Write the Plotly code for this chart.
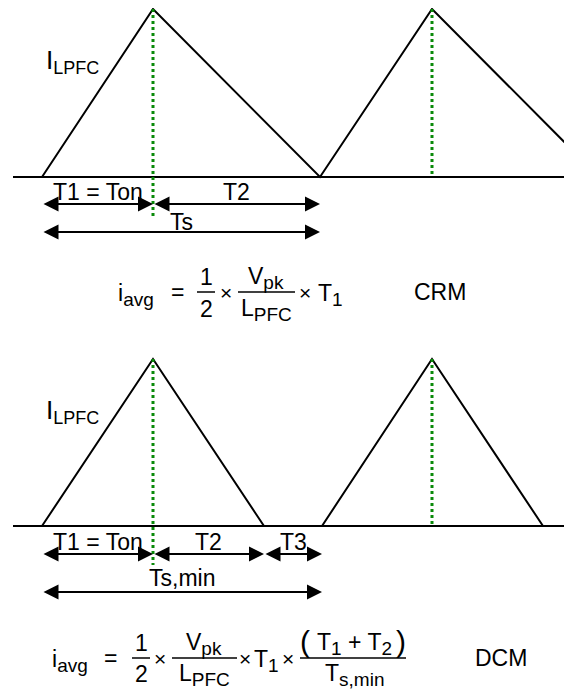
import plotly.graph_objects as go

# page body has an 8 px margin: the figure is sized to fill the rest of the window
OFF = 8
W, H = 572 - OFF, 691 - OFF

# ---------------- data (time in arbitrary units, current normalised) -------------
axis_start = 13
axis_end = 572

crm_time = [42, 153, 320, 432, 599]
crm_current = [0, 1, 0, 1, 0]
crm_peaks = [153, 432]
crm_bounds = [42, 153, 320]
crm_labels = ["T1 = Ton", "T2"]
crm_period_label = "Ts"

dcm_time = [42, 153, 264, 322, 432, 543]
dcm_current = [0, 1, 0, 0, 1, 0]
dcm_peaks = [153, 432]
dcm_bounds = [42, 153, 264, 322]
dcm_labels = ["T1 = Ton", "T2", "T3"]
dcm_period_label = "Ts,min"

# ---------------- styling ----------------
FONT = "Liberation Sans, Arial, sans-serif"
BLACK = "#000000"
GREEN = "#0a8a0a"
LAB = 23      # label font size
FS = 23       # formula font size
SUBFS = 19    # subscript size

fig = go.Figure()


def px(x):
    return (x - OFF) / W


def py(y):
    return 1 - (y - OFF) / H


def sub(s, size=SUBFS):
    return "<sub><span style='font-size:%dpx'>%s</span></sub>" % (size, s)


def arrow(a, b, y, yr):
    fig.add_annotation(x=b, y=y, ax=a, ay=y, xref="x", yref=yr,
                       axref="x", ayref=yr, text="", showarrow=True,
                       arrowhead=2, startarrowhead=2, arrowside="end+start",
                       arrowsize=1.5, startarrowsize=1.5, arrowwidth=2,
                       arrowcolor=BLACK, standoff=0, startstandoff=0)


def panel(times, currents, peaks, bounds, labels, period_label, yref, row_y, lab_y,
          per_y, per_lab_y, green_low):
    fig.add_trace(go.Scatter(x=[axis_start, axis_end], y=[0, 0], mode="lines",
                             line=dict(color=BLACK, width=2), yaxis=yref,
                             hoverinfo="skip", showlegend=False))
    fig.add_trace(go.Scatter(x=times, y=currents, mode="lines",
                             line=dict(color=BLACK, width=2), yaxis=yref,
                             hoverinfo="skip", showlegend=False))
    for i, t in enumerate(peaks):
        low = green_low if i == 0 else 0
        fig.add_trace(go.Scatter(x=[t, t], y=[1, low], mode="lines",
                                 line=dict(color=GREEN, width=3, dash="dot"),
                                 yaxis=yref, hoverinfo="skip", showlegend=False))
    yr = "y" if yref == "y" else "y2"
    for i in range(len(bounds) - 1):
        a, b = bounds[i], bounds[i + 1]
        arrow(a, b, row_y, yr)
        fig.add_annotation(x=(a + b) / 2, y=lab_y, xref="x", yref=yr,
                           text=labels[i], showarrow=False,
                           font=dict(family=FONT, size=LAB, color=BLACK))
    arrow(bounds[0], bounds[-1], per_y, yr)
    fig.add_annotation(x=(bounds[0] + bounds[-1]) / 2, y=per_lab_y, xref="x",
                       yref=yr, text=period_label, showarrow=False,
                       font=dict(family=FONT, size=LAB, color=BLACK))
    fig.add_annotation(x=44, y=0.685, xref="x", yref=yr, xanchor="left",
                       text="I" + sub("LPFC", 18), showarrow=False,
                       font=dict(family=FONT, size=26, color=BLACK))


panel(crm_time, crm_current, crm_peaks, crm_bounds, crm_labels, crm_period_label,
      "y", -0.161, -0.092, -0.327, -0.27, -0.24)
panel(dcm_time, dcm_current, dcm_peaks, dcm_bounds, dcm_labels, dcm_period_label,
      "y2", -0.168, -0.098, -0.395, -0.31, -0.234)


def txt(x, y, s, size=FS, xanchor="center"):
    fig.add_annotation(x=px(x), y=py(y), xref="paper", yref="paper", text=s,
                       showarrow=False, xanchor=xanchor, yanchor="middle",
                       font=dict(family=FONT, size=size, color=BLACK))


def bar(x0, x1, y):
    fig.add_shape(type="line", xref="paper", yref="paper", x0=px(x0), x1=px(x1),
                  y0=py(y), y1=py(y), line=dict(color=BLACK, width=1.5))


# CRM formula
yc = 292
txt(116, yc + 3, "i" + sub("avg"), xanchor="left")
txt(177, yc, "=")
txt(206, yc - 15, "1"); txt(206, yc + 17, "2"); bar(197, 215, yc)
txt(226, yc, "×", size=21)
txt(266, yc - 14, "V" + sub("pk")); txt(266, yc + 18, "L" + sub("PFC")); bar(238, 295, yc)
txt(305, yc, "×", size=21)
txt(316, yc + 3, "T" + sub("1"), xanchor="left")
txt(440, yc, "CRM")

# DCM formula
yd = 658
txt(50, yd + 3, "i" + sub("avg"), xanchor="left")
txt(110, yd, "=")
txt(141, yd - 15, "1"); txt(141, yd + 16, "2"); bar(132, 150, yd)
txt(160, yd, "×", size=21)
txt(204, yd - 14, "V" + sub("pk")); txt(204, yd + 17, "L" + sub("PFC")); bar(172, 237, yd)
txt(245, yd, "×", size=21)
txt(252, yd + 3, "T" + sub("1"), xanchor="left")
txt(288, yd, "×", size=21)
txt(305, yd - 17, "(", size=30)
txt(354, yd - 14, "T" + sub("1") + " + T" + sub("2"))
txt(401, yd - 17, ")", size=30)
txt(354, yd + 17, "T" + sub("s,min"))
bar(300, 406, yd)
txt(501, yd, "DCM")

fig.update_layout(
    width=W, height=H,
    margin=dict(l=0, r=0, t=0, b=0),
    paper_bgcolor="white", plot_bgcolor="white",
    xaxis=dict(range=[OFF, 572], visible=False, fixedrange=True),
    yaxis=dict(range=[-3.0595, 169 / 168], visible=False, fixedrange=True,
               domain=[0, 1]),
    yaxis2=dict(range=[-0.988, 518 / 167], visible=False, fixedrange=True,
                overlaying="y", domain=[0, 1]),
    showlegend=False,
)

fig.write_html("out.html")
